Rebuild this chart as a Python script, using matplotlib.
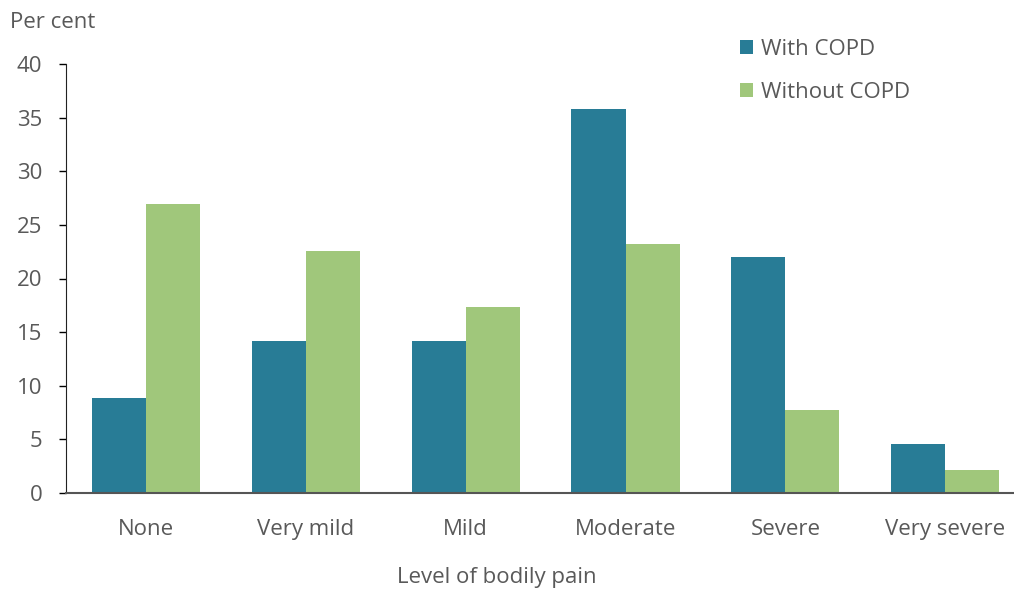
import matplotlib
matplotlib.use('Agg')
import matplotlib.pyplot as plt
import numpy as np

# bodily pain levels, COPD vs not
categories = ['None', 'Very mild', 'Mild', 'Moderate', 'Severe', 'Very severe']
with_copd = [8.9, 14.2, 14.2, 35.8, 22.0, 4.6]
without_copd = [26.9, 22.6, 17.3, 23.2, 7.7, 2.1]

plt.rcParams['font.family'] = ['Open Sans', 'DejaVu Sans']
txt = '#595959'

fig = plt.figure(figsize=(10.14, 5.89), dpi=100)
ax = fig.add_axes([66/1014, 96/589, (1014-66)/1014, 429/589])

x = np.arange(len(categories))
w = 0.338
ax.bar(x - w/2, with_copd, w, color='#287c96', label='With COPD')
ax.bar(x + w/2, without_copd, w, color='#a0c77b', label='Without COPD')

ax.set_xlim(-0.5, 5.43)
ax.set_ylim(0, 40)
ax.set_yticks(range(0, 41, 5))
ax.set_xticks(x)
ax.set_xticklabels(categories)
ax.tick_params(axis='x', length=0, pad=19, labelsize=16, labelcolor=txt)
ax.tick_params(axis='y', length=5, width=1, pad=12, labelsize=16, labelcolor=txt)

for s in ['top', 'right']:
    ax.spines[s].set_visible(False)
ax.spines['left'].set_color('#222222')
ax.spines['bottom'].set_color('#555555')
ax.spines['bottom'].set_linewidth(1.5)

fig.text(10/1014, 1 - 22/589, 'Per cent', fontsize=16, color=txt, va='center', ha='left')
fig.text(497/1014, 1 - 578/589, 'Level of bodily pain', fontsize=16, color=txt, va='center', ha='center')

ax.legend(loc='upper left', bbox_to_anchor=(0.69, 1.105), frameon=False, fontsize=16,
          handlelength=0.6, handleheight=0.6, handletextpad=0.35, labelspacing=1.0,
          labelcolor=txt)

fig.savefig('out.png', dpi=100)
